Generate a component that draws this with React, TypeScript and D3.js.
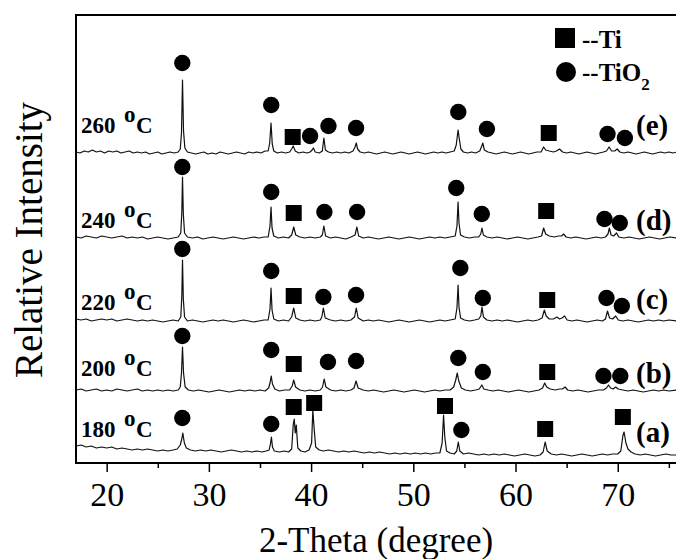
import { useEffect, useRef } from 'react'
import * as d3 from 'd3'

type Pt = [number, number]
type Mark = [number, number, 's' | 'c']

// XRD traces: [2-theta, counts above the trace's own offset]
const trace180: Pt[] = [[17,9],[17.5,10],[18,8],[18.5,9],[19,7],[19.5,8],[20,7],[20.5,8],[21,6],[21.5,7],[22,6],[22.5,5],[23,6],[23.5,5],[24,6],[24.5,5],[25,4],[25.5,5],[26,4],[26.5,5],[26.9,6],[27.2,10],[27.35,16],[27.45,22],[27.6,12],[27.8,7],[28.2,5],[28.7,4],[29.2,5],[29.7,4],[30.2,5],[30.7,4],[31.2,3],[31.7,4],[32.2,5],[32.7,4],[33.2,3],[33.7,4],[34.2,3],[34.7,4],[35.2,3],[35.6,4],[35.9,5],[36.02,11],[36.12,18],[36.22,8],[36.4,4],[36.9,3],[37.4,4],[37.8,3],[38.1,6],[38.25,30],[38.35,36],[38.45,22],[38.55,30],[38.7,7],[39.0,4],[39.4,3],[39.8,5],[40.05,12],[40.17,45],[40.3,26],[40.45,8],[40.8,5],[41.2,4],[41.7,5],[42.2,4],[42.7,3],[43.2,4],[43.7,3],[44.2,4],[44.7,3],[45.2,2],[45.7,3],[46.2,2],[46.7,3],[47.2,2],[47.7,1],[48.2,2],[48.7,1],[49.2,2],[49.7,1],[50.2,2],[50.7,1],[51.2,2],[51.7,1],[52.2,2],[52.6,2],[52.82,12],[52.96,40],[53.08,18],[53.25,4],[53.6,2],[54.0,1],[54.25,4],[54.4,13],[54.55,4],[54.9,1],[55.4,2],[55.9,1],[56.4,0],[56.9,1],[57.4,0],[57.9,1],[58.4,0],[58.9,1],[59.4,0],[59.9,-1],[60.4,0],[60.9,1],[61.4,0],[61.9,-1],[62.4,0],[62.7,3],[62.9,13],[63.1,4],[63.5,1],[64,0],[64.5,1],[65,0],[65.5,-1],[66,0],[66.5,1],[67,0],[67.5,-1],[68,0],[68.5,1],[69,0],[69.5,1],[70,1],[70.3,4],[70.5,19],[70.62,23],[70.8,12],[71.0,6],[71.3,3],[71.7,1],[72.2,0],[72.7,1],[73.2,0],[73.7,-1],[74.2,0],[74.7,1],[75.2,0],[75.8,0]]

const trace200: Pt[] = [[17,1],[17.5,2],[18,0],[18.5,1],[19,2],[19.5,0],[20,1],[20.5,0],[21,2],[21.5,1],[22,0],[22.5,1],[23,2],[23.5,0],[24,1],[24.5,0],[25,1],[25.5,0],[26,1],[26.5,0],[27,1],[27.2,4],[27.32,18],[27.42,44],[27.52,18],[27.68,4],[28,1],[28.5,0],[29,1],[29.5,0],[30,-1],[30.5,0],[31,1],[31.5,0],[32,-1],[32.5,0],[33,1],[33.5,0],[34,1],[34.5,0],[35,1],[35.5,0],[35.85,3],[36.0,9],[36.1,15],[36.22,7],[36.45,2],[36.9,0],[37.4,1],[37.9,1],[38.15,5],[38.3,11],[38.48,4],[38.9,1],[39.4,0],[39.9,1],[40.4,0],[40.9,1],[41.12,4],[41.28,12],[41.45,4],[41.9,1],[42.4,0],[42.9,1],[43.4,0],[43.9,1],[44.2,3],[44.4,10],[44.6,3],[45.1,1],[45.6,0],[46.1,1],[46.6,0],[47.1,-1],[47.6,0],[48.1,1],[48.6,0],[49.1,-1],[49.6,0],[50.1,1],[50.6,0],[51.1,-1],[51.6,0],[52.1,1],[52.6,0],[53.1,1],[53.6,1],[53.95,4],[54.15,11],[54.3,18],[54.45,10],[54.7,3],[55.1,1],[55.6,0],[56.1,1],[56.45,2],[56.7,6],[56.9,2],[57.3,1],[57.8,0],[58.3,1],[58.8,0],[59.3,-1],[59.8,0],[60.3,1],[60.8,0],[61.3,-1],[61.8,0],[62.3,1],[62.65,3],[62.85,8],[63.05,4],[63.4,2],[63.9,1],[64.3,2],[64.6,2],[64.85,4],[65.1,1],[65.6,0],[66.1,1],[66.6,0],[67.1,-1],[67.6,0],[68.1,1],[68.6,1],[68.9,3],[69.1,6],[69.3,3],[69.55,2],[69.8,4],[70.05,2],[70.5,1],[71,0],[71.5,1],[72,0],[72.5,-1],[73,0],[73.5,1],[74,0],[74.5,1],[75,0],[75.8,1]]

const trace220: Pt[] = [[17,2],[17.5,1],[18,2],[18.5,0],[19,1],[19.5,2],[20,1],[20.5,2],[21,0],[21.5,1],[22,2],[22.5,1],[23,0],[23.5,1],[24,0],[24.5,1],[25,0],[25.5,-1],[26,0],[26.5,1],[27,0],[27.25,4],[27.35,24],[27.42,61],[27.5,22],[27.62,4],[27.9,0],[28.4,1],[28.9,0],[29.4,-1],[29.9,0],[30.4,1],[30.9,0],[31.4,1],[31.9,0],[32.4,-1],[32.9,0],[33.4,1],[33.9,0],[34.4,-1],[34.9,0],[35.4,1],[35.8,1],[35.98,12],[36.08,33],[36.18,11],[36.35,2],[36.8,0],[37.3,1],[37.8,0],[38.1,4],[38.3,13],[38.5,3],[38.9,1],[39.4,0],[39.9,1],[40.4,0],[40.9,1],[41.05,4],[41.2,13],[41.38,3],[41.9,1],[42.4,0],[42.9,1],[43.4,0],[43.9,1],[44.25,4],[44.42,13],[44.6,3],[45.1,0],[45.6,1],[46.1,0],[46.6,1],[47.1,0],[47.6,-1],[48.1,0],[48.6,1],[49.1,0],[49.6,-1],[50.1,0],[50.6,1],[51.1,0],[51.6,-1],[52.1,0],[52.6,1],[53.1,0],[53.6,1],[54.1,2],[54.27,13],[54.38,36],[54.47,14],[54.62,3],[55,1],[55.5,0],[56,1],[56.4,2],[56.6,5],[56.72,14],[56.86,4],[57.2,1],[57.7,0],[58.2,1],[58.7,0],[59.2,1],[59.7,0],[60.2,-1],[60.7,0],[61.2,1],[61.7,0],[62.2,1],[62.6,3],[62.82,11],[63.0,5],[63.3,2],[63.7,2],[64.05,4],[64.3,2],[64.55,3],[64.8,5],[65.05,1],[65.5,0],[66,1],[66.5,0],[67,-1],[67.5,0],[68,1],[68.5,0],[68.8,2],[69.0,10],[69.2,3],[69.5,2],[69.8,5],[70.05,1],[70.5,0],[71,1],[71.5,0],[72,-1],[72.5,0],[73,1],[73.5,0],[74,1],[74.5,0],[75,1],[75.8,0]]

const trace240: Pt[] = [[17,1],[17.5,0],[18,2],[18.5,1],[19,0],[19.5,2],[20,1],[20.5,0],[21,1],[21.5,2],[22,0],[22.5,1],[23,0],[23.5,1],[24,-1],[24.5,0],[25,1],[25.5,0],[26,-1],[26.5,0],[27,1],[27.25,5],[27.35,25],[27.42,61],[27.5,24],[27.62,5],[27.9,1],[28.4,0],[28.9,1],[29.4,-1],[29.9,0],[30.4,1],[30.9,0],[31.4,-1],[31.9,0],[32.4,1],[32.9,0],[33.4,-1],[33.9,0],[34.4,1],[34.9,0],[35.4,1],[35.8,1],[35.98,12],[36.08,31],[36.18,10],[36.35,2],[36.8,0],[37.3,1],[37.8,0],[38.1,3],[38.3,11],[38.5,3],[38.9,1],[39.4,0],[39.9,1],[40.4,0],[40.9,1],[41.1,3],[41.25,12],[41.42,2],[41.9,0],[42.4,1],[42.9,0],[43.4,-1],[43.9,1],[44.3,3],[44.48,11],[44.65,2],[45.1,0],[45.6,1],[46.1,0],[46.6,-1],[47.1,0],[47.6,1],[48.1,0],[48.6,-1],[49.1,0],[49.6,1],[50.1,0],[50.6,-1],[51.1,0],[51.6,1],[52.1,0],[52.6,1],[53.1,0],[53.6,1],[54.1,2],[54.27,12],[54.38,36],[54.47,15],[54.62,3],[55,1],[55.5,0],[56,1],[56.4,1],[56.6,4],[56.72,10],[56.85,3],[57.2,1],[57.7,0],[58.2,1],[58.7,0],[59.2,-1],[59.7,0],[60.2,1],[60.7,0],[61.2,-1],[61.7,0],[62.2,1],[62.55,2],[62.75,10],[62.95,4],[63.3,2],[63.8,1],[64.2,2],[64.5,2],[64.7,4],[64.95,1],[65.4,0],[65.9,1],[66.4,0],[66.9,-1],[67.4,0],[67.9,1],[68.4,0],[68.8,1],[69.05,4],[69.18,10],[69.35,3],[69.6,2],[69.88,5],[70.1,1],[70.6,0],[71.1,1],[71.6,0],[72.1,-1],[72.6,0],[73.1,1],[73.6,0],[74.1,-1],[74.6,0],[75.1,1],[75.8,0]]

const trace260: Pt[] = [[17,1],[17.4,0],[17.8,2],[18.2,1],[18.6,3],[19,1],[19.4,2],[19.8,0],[20.2,2],[20.6,1],[21,2],[21.4,0],[21.8,1],[22.2,2],[22.6,0],[23,1],[23.4,0],[23.8,1],[24.2,-1],[24.6,0],[25,1],[25.4,-1],[25.8,0],[26.2,1],[26.6,0],[27,1],[27.2,4],[27.32,20],[27.42,73],[27.52,22],[27.65,5],[27.9,1],[28.3,0],[28.7,-1],[29.1,0],[29.5,1],[29.9,-1],[30.3,0],[30.7,-1],[31.1,1],[31.5,0],[31.9,-1],[32.3,0],[32.7,1],[33.1,0],[33.5,-1],[33.9,1],[34.3,0],[34.7,1],[35.1,0],[35.5,2],[35.8,2],[35.95,10],[36.08,30],[36.2,9],[36.35,2],[36.7,0],[37.1,1],[37.5,0],[37.9,1],[38.1,4],[38.25,7],[38.45,2],[38.8,0],[39.2,1],[39.6,0],[39.9,1],[40.1,3],[40.22,5],[40.4,1],[40.8,0],[41.1,2],[41.25,15],[41.4,3],[41.7,1],[42.1,0],[42.5,1],[42.9,0],[43.3,1],[43.7,0],[44.1,2],[44.3,6],[44.42,10],[44.55,4],[44.8,1],[45.2,0],[45.6,1],[46,0],[46.4,-1],[46.8,0],[47.2,1],[47.6,0],[48,-1],[48.4,0],[48.8,1],[49.2,0],[49.6,-1],[50,0],[50.4,1],[50.8,0],[51.2,-1],[51.6,0],[52,1],[52.4,0],[52.8,1],[53.2,0],[53.6,1],[54,2],[54.2,8],[54.38,23],[54.5,14],[54.65,4],[54.9,1],[55.3,0],[55.7,1],[56.1,0],[56.5,2],[56.7,7],[56.8,10],[56.95,3],[57.3,1],[57.7,0],[58.1,-1],[58.5,0],[58.9,1],[59.3,0],[59.7,-1],[60.1,0],[60.5,1],[60.9,0],[61.3,-1],[61.7,0],[62.1,1],[62.5,1],[62.75,6],[62.95,3],[63.3,2],[63.7,1],[64.0,2],[64.3,4],[64.6,1],[65,0],[65.4,1],[65.8,0],[66.2,-1],[66.6,0],[67,1],[67.4,0],[67.8,-1],[68.2,0],[68.6,1],[68.9,2],[69.15,6],[69.4,2],[69.7,2],[69.95,4],[70.2,1],[70.6,0],[71,1],[71.4,0],[71.8,-1],[72.2,0],[72.6,1],[73,0],[73.4,-1],[73.8,0],[74.2,1],[74.6,0],[75,1],[75.4,0],[75.8,1]]

// phase markers: [2-theta, height above offset, s = Ti, c = TiO2]
const marks180: Mark[] = [[27.4,37,'c'],[36.1,31,'c'],[38.3,48,'s'],[40.3,52,'s'],[53.1,49,'s'],[54.7,25,'c'],[62.9,26,'s'],[70.5,38,'s']]
const marks200: Mark[] = [[27.4,55,'c'],[36.1,41,'c'],[38.3,27,'s'],[41.65,29,'c'],[44.4,30,'c'],[54.4,33,'c'],[56.8,19,'c'],[63.1,19,'s'],[68.6,15,'c'],[70.25,15,'c']]
const marks220: Mark[] = [[27.4,72,'c'],[36.1,50,'c'],[38.3,25,'s'],[41.2,24,'c'],[44.4,26,'c'],[54.6,53,'c'],[56.8,23,'c'],[63.1,21,'s'],[68.9,23,'c'],[70.4,15,'c']]
const marks240: Mark[] = [[27.4,71,'c'],[36.1,46,'c'],[38.3,25,'s'],[41.3,26,'c'],[44.5,26,'c'],[54.2,50,'c'],[56.7,24,'c'],[63.0,27,'s'],[68.7,19,'c'],[70.2,15,'c']]
const marks260: Mark[] = [[27.4,90,'c'],[36.1,48,'c'],[38.2,16,'s'],[39.9,17,'c'],[41.7,27,'c'],[44.4,25,'c'],[54.4,41,'c'],[57.2,24,'c'],[63.25,20,'s'],[69.0,19,'c'],[70.7,15,'c']]

const offsets = [8, 72, 142, 225, 310]
const temps = ['180', '200', '220', '240', '260']
const letters = ['(a)', '(b)', '(c)', '(d)', '(e)']
const tempLift = [18, 15, 11, 10, 20]
const letterLift = [13, 8, 12, 8, 18]
const majorTicks = [20, 30, 40, 50, 60, 70]
const minorTicks = [25, 35, 45, 55, 65, 75]

const SERIF = "'Liberation Serif', 'Times New Roman', serif"

export default function App() {
  const svgRef = useRef<SVGSVGElement>(null)

  useEffect(() => {
    const W = 676
    const H = 559
    const left = 76, top = 15, bottom = 463

    const traces = [trace180, trace200, trace220, trace240, trace260]
    const marks = [marks180, marks200, marks220, marks240, marks260]

    const x = d3.scaleLinear().domain([17, 75.7]).range([left, W])
    const y = d3.scaleLinear().domain([0, bottom - top]).range([bottom, top])

    const svg = d3.select(svgRef.current)
    svg.selectAll('*').remove()
    svg.attr('width', W).attr('height', H)

    svg.append('rect').attr('width', W).attr('height', H).attr('fill', '#fff')

    // traces, markers and labels
    traces.forEach((tr, i) => {
      const off = offsets[i]
      const line = d3.line<Pt>().x((d) => x(d[0])).y((d) => y(d[1] + off))
      svg.append('path')
        .datum(tr)
        .attr('fill', 'none').attr('stroke', '#111').attr('stroke-width', 1.2)
        .attr('stroke-linejoin', 'round')
        .attr('d', line)

      marks[i].forEach(([tt, h, k]) => {
        const cx = x(tt), cy = y(h + off)
        if (k === 'c') {
          svg.append('circle').attr('cx', cx).attr('cy', cy).attr('r', 8.2).attr('fill', '#000')
        } else {
          svg.append('rect').attr('x', cx - 8).attr('y', cy - 8)
            .attr('width', 16).attr('height', 16).attr('fill', '#000')
        }
      })

      const ty = y(off + tempLift[i])
      const t = svg.append('text')
        .attr('y', ty).attr('font-family', SERIF).attr('font-weight', 'bold')
        .attr('font-size', 23).attr('fill', '#000')
      t.append('tspan').attr('x', 81).text(temps[i])
      t.append('tspan').attr('x', 124).attr('y', ty - 11).text('o')
      t.append('tspan').attr('x', 136).attr('y', ty).text('C')

      svg.append('text')
        .attr('x', 636).attr('y', y(off + letterLift[i]))
        .attr('font-family', SERIF).attr('font-weight', 'bold')
        .attr('font-size', 29).attr('fill', '#000')
        .text(letters[i])
    })

    // frame
    svg.append('rect')
      .attr('x', left).attr('y', top).attr('width', W - left + 10).attr('height', bottom - top)
      .attr('fill', 'none').attr('stroke', '#000').attr('stroke-width', 2)

    // x axis
    svg.append('g')
      .attr('transform', `translate(0,${bottom})`)
      .call(d3.axisBottom(x).tickValues(majorTicks).tickSize(9).tickPadding(10).tickFormat(d3.format('d')))
      .call((ax) => ax.select('.domain').remove())
      .call((ax) => ax.selectAll('.tick line').attr('stroke', '#000').attr('stroke-width', 1.5))
      .call((ax) => ax.selectAll('text').attr('fill', '#000').attr('font-size', 34).attr('font-family', SERIF))

    svg.append('g')
      .attr('transform', `translate(0,${bottom})`)
      .call(d3.axisBottom(x).tickValues(minorTicks).tickSize(5).tickFormat(() => ''))
      .call((ax) => ax.select('.domain').remove())
      .call((ax) => ax.selectAll('.tick line').attr('stroke', '#000').attr('stroke-width', 1.5))

    svg.append('text')
      .attr('x', (left + W) / 2).attr('y', 552)
      .attr('text-anchor', 'middle').attr('font-family', SERIF).attr('font-size', 35)
      .attr('fill', '#000').text('2-Theta (degree)')

    svg.append('text')
      .attr('transform', `translate(42,240) rotate(-90)`)
      .attr('text-anchor', 'middle').attr('font-family', SERIF).attr('font-size', 39)
      .attr('fill', '#000').text('Relative Intensity')

    // legend
    svg.append('rect').attr('x', 555).attr('y', 28).attr('width', 20).attr('height', 20).attr('fill', '#000')
    svg.append('circle').attr('cx', 566).attr('cy', 72).attr('r', 10).attr('fill', '#000')
    svg.append('text')
      .attr('x', 582).attr('y', 48).attr('font-family', SERIF).attr('font-weight', 'bold')
      .attr('font-size', 25).attr('fill', '#000').text('--Ti')
    const lt = svg.append('text')
      .attr('x', 582).attr('y', 81).attr('font-family', SERIF).attr('font-weight', 'bold')
      .attr('font-size', 25).attr('fill', '#000')
    lt.append('tspan').text('--TiO')
    lt.append('tspan').attr('font-size', 17).attr('dy', 9).text('2')

    return () => { svg.selectAll('*').remove() }
  }, [])

  return (
    <div style={{ position: 'absolute', left: 0, top: 0 }}>
      <svg ref={svgRef} style={{ display: 'block' }} />
    </div>
  )
}
